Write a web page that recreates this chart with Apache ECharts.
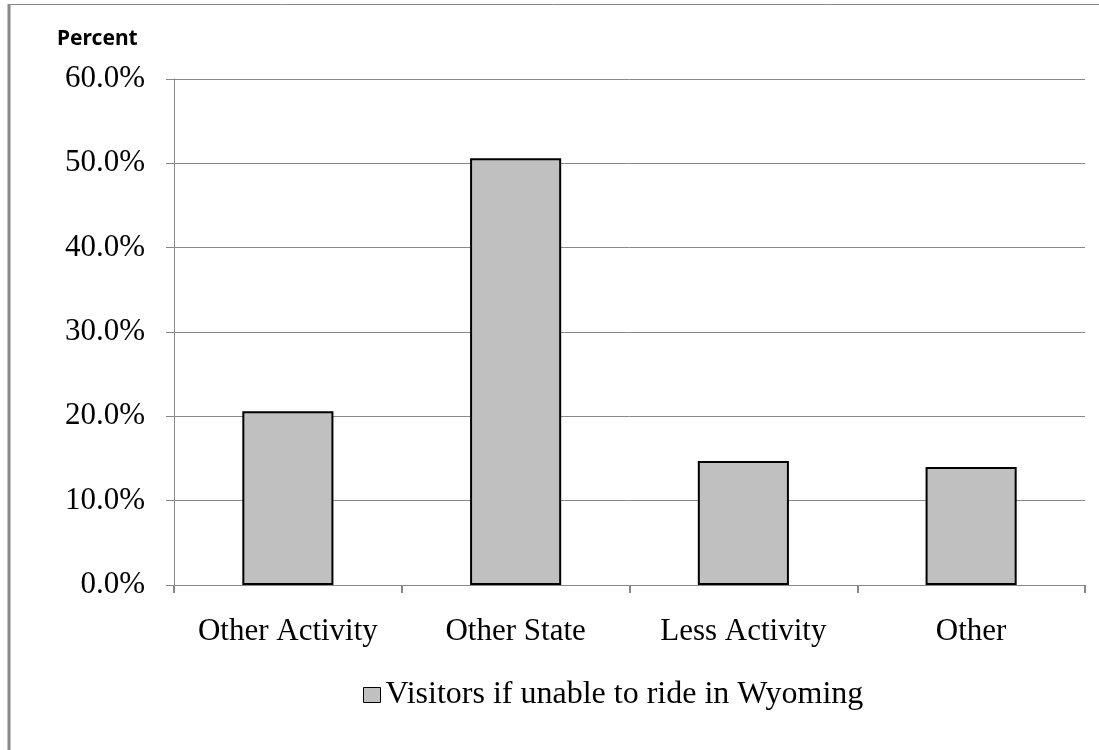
<!DOCTYPE html>
<html>
<head>
<meta charset="utf-8">
<script src="https://cdn.jsdelivr.net/npm/echarts@6/dist/echarts.min.js"></script>
<style>
html,body{margin:0;padding:0;background:#fff;}
#chart{width:1099px;height:750px;}
</style>
</head>
<body>
<div id="chart"></div>
<script>
const categories = ['Other Activity', 'Other State', 'Less Activity', 'Other'];
const seriesName = 'Visitors if unable to ride in Wyoming';
const values = [20.6, 50.6, 14.7, 14.0];
const yTicks = [0, 10, 20, 30, 40, 50, 60];

const chart = echarts.init(document.getElementById('chart'), null, {renderer: 'canvas'});
chart.setOption({
  animation: false,
  backgroundColor: '#fff',
  graphic: [
    {type: 'line', shape: {x1: 9, y1: 4, x2: 9, y2: 750}, style: {stroke: '#888', lineWidth: 3}},
    {type: 'line', shape: {x1: 8, y1: 4.5, x2: 1099, y2: 4.5}, style: {stroke: '#888', lineWidth: 1}},
    {type: 'text', left: 57, top: 29, style: {text: 'Percent', font: 'bold 21px "Noto Sans", "Liberation Sans", sans-serif', fill: '#000'}}
  ],
  grid: {left: 174, right: 14, top: 79, bottom: 165, containLabel: false},
  legend: {
    data: [seriesName],
    left: 358, top: 674,
    padding: 5,
    itemWidth: 17, itemHeight: 15, itemGap: 7,
    icon: 'rect',
    textStyle: {fontFamily: '"Liberation Serif", "Times New Roman", serif', fontSize: 32, color: '#000'},
    itemStyle: {borderColor: '#000', borderWidth: 1}
  },
  xAxis: {
    type: 'category',
    data: categories,
    axisLine: {lineStyle: {color: '#888', width: 1}},
    axisTick: {show: true, length: 8, alignWithLabel: false, lineStyle: {color: '#888', width: 2}},
    axisLabel: {interval: 0, margin: 31, fontFamily: '"Liberation Serif", "Times New Roman", serif', fontSize: 31, color: '#000'}
  },
  yAxis: {
    type: 'value',
    min: 0, max: 60, interval: 10,
    axisLine: {show: true, lineStyle: {color: '#888', width: 1}},
    axisTick: {show: true, length: 8, lineStyle: {color: '#888'}},
    splitLine: {show: true, lineStyle: {color: '#888', width: 1}},
    axisLabel: {
      margin: 29,
      fontFamily: '"Liberation Serif", "Times New Roman", serif', fontSize: 31, color: '#000',
      formatter: v => yTicks.includes(v) ? v.toFixed(1) + '%' : ''
    }
  },
  series: [{
    name: seriesName,
    type: 'bar',
    data: values,
    barWidth: '40%',
    itemStyle: {color: '#C0C0C0', borderColor: '#000', borderWidth: 2}
  }]
});
</script>
</body>
</html>
